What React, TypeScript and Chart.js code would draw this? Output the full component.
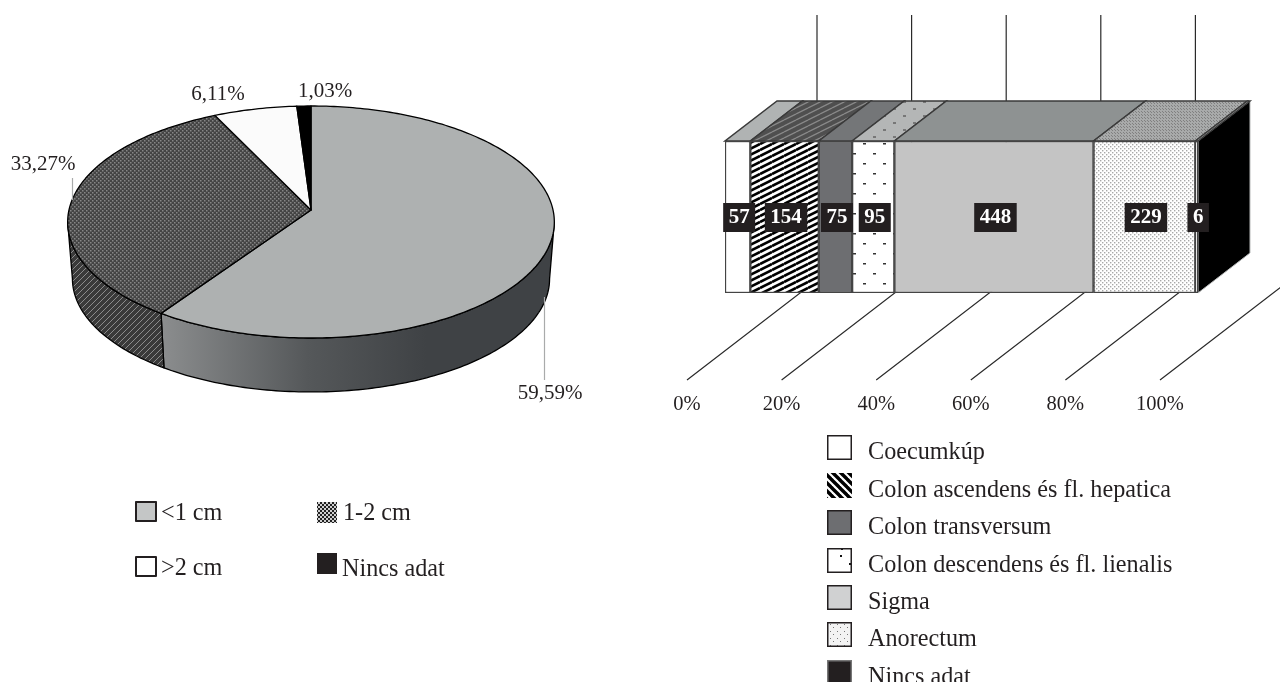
import React, { useEffect, useRef } from "react";
import { Chart, registerables } from "chart.js";

Chart.register(...registerables);

const sizeLabels = ["<1 cm", "1-2 cm", ">2 cm", "Nincs adat"];
const sizeValues = [59.59, 33.27, 6.11, 1.03];
const sizeValueText = ["59,59%", "33,27%", "6,11%", "1,03%"];

const siteLabels = [
  "Coecumkúp",
  "Colon ascendens és fl. hepatica",
  "Colon transversum",
  "Colon descendens és fl. lienalis",
  "Sigma",
  "Anorectum",
  "Nincs adat",
];
const siteCounts = [57, 154, 75, 95, 448, 229, 6];
const percentTicks = [0, 20, 40, 60, 80, 100];

const SERIF = '"Liberation Serif"';
const TEXT = "#231f20";
const LABEL_SIZE = 21;
const TICK_SIZE = 20.5;
const LEGEND_SIZE = 24.2;

type Painter = (c: CanvasRenderingContext2D, w: number, h: number) => void;

function tile(w: number, h: number, bg: string, paint: Painter): HTMLCanvasElement {
  const t = document.createElement("canvas");
  t.width = w;
  t.height = h;
  const c = t.getContext("2d")!;
  c.fillStyle = bg;
  c.fillRect(0, 0, w, h);
  paint(c, w, h);
  return t;
}

function pattern(w: number, h: number, bg: string, paint: Painter): CanvasPattern {
  const c = document.createElement("canvas").getContext("2d")!;
  return c.createPattern(tile(w, h, bg, paint), "repeat")!;
}

const dots = (color: string, pts: number[][], sw = 1, sh = sw): Painter => (c) => {
  c.fillStyle = color;
  pts.forEach(([x, y]) => c.fillRect(x, y, sw, sh));
};

const stripes = (color: string, lw: number, dir: 1 | -1): Painter => (c, w) => {
  c.strokeStyle = color;
  c.lineWidth = lw;
  for (let i = -w; i <= 2 * w; i += w) {
    c.beginPath();
    if (dir > 0) {
      c.moveTo(i - 1, w + 1);
      c.lineTo(i + w + 1, -1);
    } else {
      c.moveTo(i - 1, -1);
      c.lineTo(i + w + 1, w + 1);
    }
    c.stroke();
  }
};

const shallow = (color: string, lw: number): Painter => (c, w, h) => {
  c.strokeStyle = color;
  c.lineWidth = lw;
  for (let o = -h; o <= h; o += h) {
    c.beginPath();
    c.moveTo(0, h + o);
    c.lineTo(w, o);
    c.stroke();
  }
};

function Pie3D() {
  const ref = useRef<HTMLCanvasElement>(null);
  useEffect(() => {
    const topPatterns: (string | CanvasPattern)[] = [
      "#aeb1b1",
      pattern(4, 4, "#444444", dots("#868686", [[0, 0], [2, 2]], 1.5)),
      "#fbfbfb",
      "#000000",
    ];
    const sidePattern = pattern(6, 6, "#3a3a3a", stripes("#8c8c8c", 1, 1));
    const swatchChecker = pattern(4, 4, "#222222", dots("#cfcfcf", [[0, 0], [2, 2]], 2));

    const plugin = {
      id: "pie3d",
      afterDatasetsDraw(chart: any) {
        const ctx: CanvasRenderingContext2D = chart.ctx;
        const arcs = chart.getDatasetMeta(0).data;
        const { x: cx, y: cy, outerRadius: r } = arcs[0];
        const k = 0.1034;
        const project = (t: number, rx: number, ry: number, oy: number) => {
          const u = Math.sin(t);
          const v = -Math.cos(t);
          const w = 1 - k * v;
          return [cx + (rx * u) / w, cy + oy + (ry * v) / w];
        };
        const topRx = r * 2.305;
        const topRy = r * 1.093;
        const botRx = r * 2.26;
        const botRy = r * 1.067;
        const depth = r * 0.543;
        const STEP = Math.PI / 180;
        const rim = (a: number, b: number, rx: number, ry: number, oy: number) => {
          const out: number[][] = [];
          const n = Math.max(2, Math.ceil((b - a) / STEP));
          for (let i = 0; i <= n; i++) out.push(project(a + ((b - a) * i) / n, rx, ry, oy));
          return out;
        };
        const trace = (pts: number[][]) => {
          pts.forEach(([x, y], i) => (i ? ctx.lineTo(x, y) : ctx.moveTo(x, y)));
        };
        ctx.save();
        ctx.lineJoin = "round";
        ctx.strokeStyle = "#000000";
        ctx.lineWidth = 1.3;

        const front0 = (96 * Math.PI) / 180;
        const front1 = (264 * Math.PI) / 180;
        const grad = ctx.createLinearGradient(cx - r * 1.42, 0, cx + r * 1.1, 0);
        grad.addColorStop(0, "#8b8d8e");
        grad.addColorStop(0.55, "#55585a");
        grad.addColorStop(1, "#3f4245");
        const sideFills = [grad, sidePattern];

        arcs.forEach((arc: any, i: number) => {
          const a = Math.max(arc.startAngle + Math.PI / 2, front0);
          const b = Math.min(arc.endAngle + Math.PI / 2, front1);
          if (b <= a) return;
          ctx.beginPath();
          trace(rim(a, b, topRx, topRy, 0));
          const low = rim(a, b, botRx, botRy, depth).reverse();
          low.forEach(([x, y]) => ctx.lineTo(x, y));
          ctx.closePath();
          ctx.fillStyle = sideFills[i] as any;
          ctx.fill();
          ctx.stroke();
        });

        arcs.forEach((arc: any, i: number) => {
          const a = arc.startAngle + Math.PI / 2;
          const b = arc.endAngle + Math.PI / 2;
          ctx.beginPath();
          ctx.moveTo(cx, cy);
          rim(a, b, topRx, topRy, 0).forEach(([x, y]) => ctx.lineTo(x, y));
          ctx.closePath();
          ctx.fillStyle = topPatterns[i] as any;
          ctx.fill();
          ctx.stroke();
        });

        // leader lines
        ctx.strokeStyle = "#a9abab";
        ctx.lineWidth = 1.2;
        [[544.5, 297, 544.5, 380], [72.5, 178, 72.5, 200]].forEach(([x0, y0, x1, y1]) => {
          ctx.beginPath();
          ctx.moveTo(x0, y0);
          ctx.lineTo(x1, y1);
          ctx.stroke();
        });

        // value labels
        ctx.font = `${LABEL_SIZE}px ${SERIF}`;
        ctx.fillStyle = TEXT;
        ctx.textAlign = "center";
        ctx.textBaseline = "alphabetic";
        const labelPos = [[550, 399], [43, 170], [218, 100], [325, 97]];
        sizeValueText.forEach((t, i) => ctx.fillText(t, labelPos[i][0], labelPos[i][1]));

        // legend
        ctx.font = `${LEGEND_SIZE}px ${SERIF}`;
        ctx.textAlign = "left";
        const swatches: any[] = [
          { x: 135, y: 501, w: 22, h: 21, fill: "#c4c6c6", stroke: true },
          { x: 317, y: 502, w: 20, h: 21, fill: swatchChecker, stroke: false },
          { x: 135, y: 556, w: 22, h: 21, fill: "#ffffff", stroke: true },
          { x: 317, y: 553, w: 20, h: 21, fill: TEXT, stroke: false },
        ];
        const textPos = [[161, 520], [343, 520], [161, 575], [342, 576]];
        sizeLabels.forEach((t, i) => {
          const s = swatches[i];
          ctx.fillStyle = s.fill;
          ctx.fillRect(s.x, s.y, s.w, s.h);
          if (s.stroke) {
            ctx.strokeStyle = TEXT;
            ctx.lineWidth = 2;
            ctx.strokeRect(s.x + 1, s.y + 1, s.w - 2, s.h - 2);
          }
          ctx.fillStyle = TEXT;
          ctx.fillText(t, textPos[i][0], textPos[i][1]);
        });
        ctx.restore();
      },
    };

    const chart = new Chart(ref.current!, {
      type: "pie",
      data: {
        labels: sizeLabels,
        datasets: [{ data: sizeValues, backgroundColor: "transparent", borderWidth: 0 }],
      },
      options: {
        responsive: false,
        animation: false,
        events: [],
        layout: { padding: { left: 69, right: 87, top: 105, bottom: 367 } },
        plugins: { legend: { display: false }, tooltip: { enabled: false } },
      },
      plugins: [plugin],
    } as any);
    return () => chart.destroy();
  }, []);
  return (
    <canvas
      ref={ref}
      width={640}
      height={682}
      style={{ position: "absolute", left: 0, top: 0, width: 640, height: 682 }}
    />
  );
}

function Stacked3D() {
  const ref = useRef<HTMLCanvasElement>(null);
  useEffect(() => {
    const total = siteCounts.reduce((a, b) => a + b, 0);
    const shares = siteCounts.map((v) => (v / total) * 100);

    const frontFills: (string | CanvasPattern)[] = [
      "#ffffff",
      pattern(12, 6, "#ffffff", shallow("#000000", 2.6)),
      "#6d6e71",
      pattern(20, 20, "#ffffff", dots("#333333", [[3, 3], [13, 13]], 3, 1.5)),
      "#c4c4c4",
      pattern(4, 4, "#ffffff", dots("#a8a8a8", [[0, 0], [2, 2]], 1.4)),
      "#ffffff",
    ];
    const topFills: (string | CanvasPattern)[] = [
      "#b0b3b3",
      pattern(12, 6, "#4f4f4f", shallow("#8a8a8a", 1.3)),
      "#747678",
      pattern(20, 14, "#b4b6b6", dots("#777777", [[3, 3], [13, 10]], 3, 2)),
      "#8e9292",
      pattern(3, 3, "#a8aaaa", dots("#808080", [[0, 0], [1, 1]], 1)),
      "#d4d6d6",
    ];
    const swatches: (string | CanvasPattern)[] = [
      "#ffffff",
      pattern(8, 8, "#ffffff", stripes("#000000", 3.4, -1)),
      "#6d6e71",
      pattern(24, 24, "#ffffff", dots("#111111", [[8, 3], [17, 11], [9, 20]], 2)),
      "#d0d1d2",
      pattern(7, 7, "#f3f3f3", dots("#777777", [[1, 1], [4, 4]], 1)),
      TEXT,
    ];

    const DX = 52;
    const DY = -40;

    const plugin = {
      id: "box3d",
      beforeDatasetsDraw(chart: any) {
        const ctx: CanvasRenderingContext2D = chart.ctx;
        const { x } = chart.scales;
        const bottom = chart.chartArea.bottom;
        const top = chart.chartArea.top;
        ctx.save();
        // floor and back wall grid
        ctx.strokeStyle = "#2a2a2a";
        ctx.lineWidth = 1.2;
        percentTicks.forEach((t) => {
          const fx = x.getPixelForValue(t) - 38;
          const fy = bottom + 87;
          const bx = fx + 130;
          const by = fy - 100;
          ctx.beginPath();
          ctx.moveTo(fx, fy);
          ctx.lineTo(bx, by);
          ctx.lineTo(bx, 15);
          ctx.stroke();
        });
        // end face
        const right = x.getPixelForValue(100);
        ctx.beginPath();
        ctx.moveTo(right, top);
        ctx.lineTo(right + DX, top + DY);
        ctx.lineTo(right + DX, bottom + DY);
        ctx.lineTo(right, bottom);
        ctx.closePath();
        ctx.fillStyle = "#000000";
        ctx.fill();
        ctx.strokeStyle = "#b8baba";
        ctx.lineWidth = 1;
        ctx.stroke();
        // top face per segment
        ctx.strokeStyle = "#3a3a3a";
        ctx.lineWidth = 1.5;
        chart.data.datasets.forEach((_: any, i: number) => {
          const el = chart.getDatasetMeta(i).data[0];
          const x0 = Math.min(el.base, el.x);
          const x1 = Math.max(el.base, el.x);
          ctx.beginPath();
          ctx.moveTo(x0, top);
          ctx.lineTo(x1, top);
          ctx.lineTo(x1 + DX, top + DY);
          ctx.lineTo(x0 + DX, top + DY);
          ctx.closePath();
          ctx.fillStyle = topFills[i] as any;
          ctx.fill();
          ctx.stroke();
        });
        ctx.restore();
      },
      afterDatasetsDraw(chart: any) {
        const ctx: CanvasRenderingContext2D = chart.ctx;
        const { top, bottom } = chart.chartArea;
        const midY = (top + bottom) / 2;
        ctx.save();
        ctx.font = `bold ${LABEL_SIZE}px ${SERIF}`;
        ctx.textAlign = "center";
        ctx.textBaseline = "middle";
        siteCounts.forEach((v, i) => {
          const el = chart.getDatasetMeta(i).data[0];
          const cx = (el.base + el.x) / 2 + 1.5;
          const t = String(v);
          const w = ctx.measureText(t).width + 11;
          ctx.fillStyle = TEXT;
          ctx.fillRect(cx - w / 2, midY - 14, w, 29);
          ctx.fillStyle = "#ffffff";
          ctx.fillText(t, cx, midY + 1);
        });
        // legend
        ctx.font = `${LEGEND_SIZE}px ${SERIF}`;
        ctx.textAlign = "left";
        ctx.textBaseline = "alphabetic";
        const ys = [435, 473, 510, 548, 585, 622, 660];
        siteLabels.forEach((t, i) => {
          const sy = ys[i];
          const sx = 187;
          ctx.fillStyle = swatches[i] as any;
          ctx.fillRect(sx, sy, 25, 25);
          if (i !== 1) {
            ctx.strokeStyle = i === 6 ? "#777777" : TEXT;
            ctx.lineWidth = 1.5;
            ctx.strokeRect(sx + 0.75, sy + 0.75, 23.5, 23.5);
          }
          ctx.fillStyle = TEXT;
          ctx.fillText(t, 228, sy + 24);
        });
        ctx.restore();
      },
    };

    const chart = new Chart(ref.current!, {
      type: "bar",
      data: {
        labels: [""],
        datasets: siteLabels.map((label, i) => ({
          label,
          data: [shares[i]],
          backgroundColor: frontFills[i],
          borderColor: "#444444",
          borderWidth: 1.5,
          borderSkipped: false,
          barPercentage: 1,
          categoryPercentage: 1,
        })),
      },
      options: {
        indexAxis: "y",
        responsive: false,
        animation: false,
        events: [],
        layout: { padding: { left: 85, right: 82, top: 141, bottom: 266 } },
        plugins: { legend: { display: false }, tooltip: { enabled: false } },
        scales: {
          x: {
            stacked: true,
            min: 0,
            max: 100,
            afterBuildTicks: (s: any) => {
              s.ticks = percentTicks.map((value) => ({ value }));
            },
            afterFit: (s: any) => {
              s.paddingLeft = 0;
              s.paddingRight = 0;
              s.paddingTop = 0;
              s.paddingBottom = 0;
              s.height = 123;
            },
            grid: { display: false, drawTicks: false },
            border: { display: false },
            ticks: {
              autoSkip: false,
              maxRotation: 0,
              padding: 99,
              labelOffset: -38,
              color: TEXT,
              font: { family: "Liberation Serif", size: TICK_SIZE },
              callback: (v: any) => `${v}%`,
            },
          },
          y: { stacked: true, display: false },
        },
      },
      plugins: [plugin],
    } as any);
    return () => chart.destroy();
  }, []);
  return (
    <canvas
      ref={ref}
      width={640}
      height={682}
      style={{ position: "absolute", left: 640, top: 0, width: 640, height: 682 }}
    />
  );
}

export default function App() {
  return (
    <div style={{ position: "fixed", left: 0, top: 0, width: 1280, height: 682, background: "#fff", overflow: "hidden" }}>
      <Pie3D />
      <Stacked3D />
    </div>
  );
}
